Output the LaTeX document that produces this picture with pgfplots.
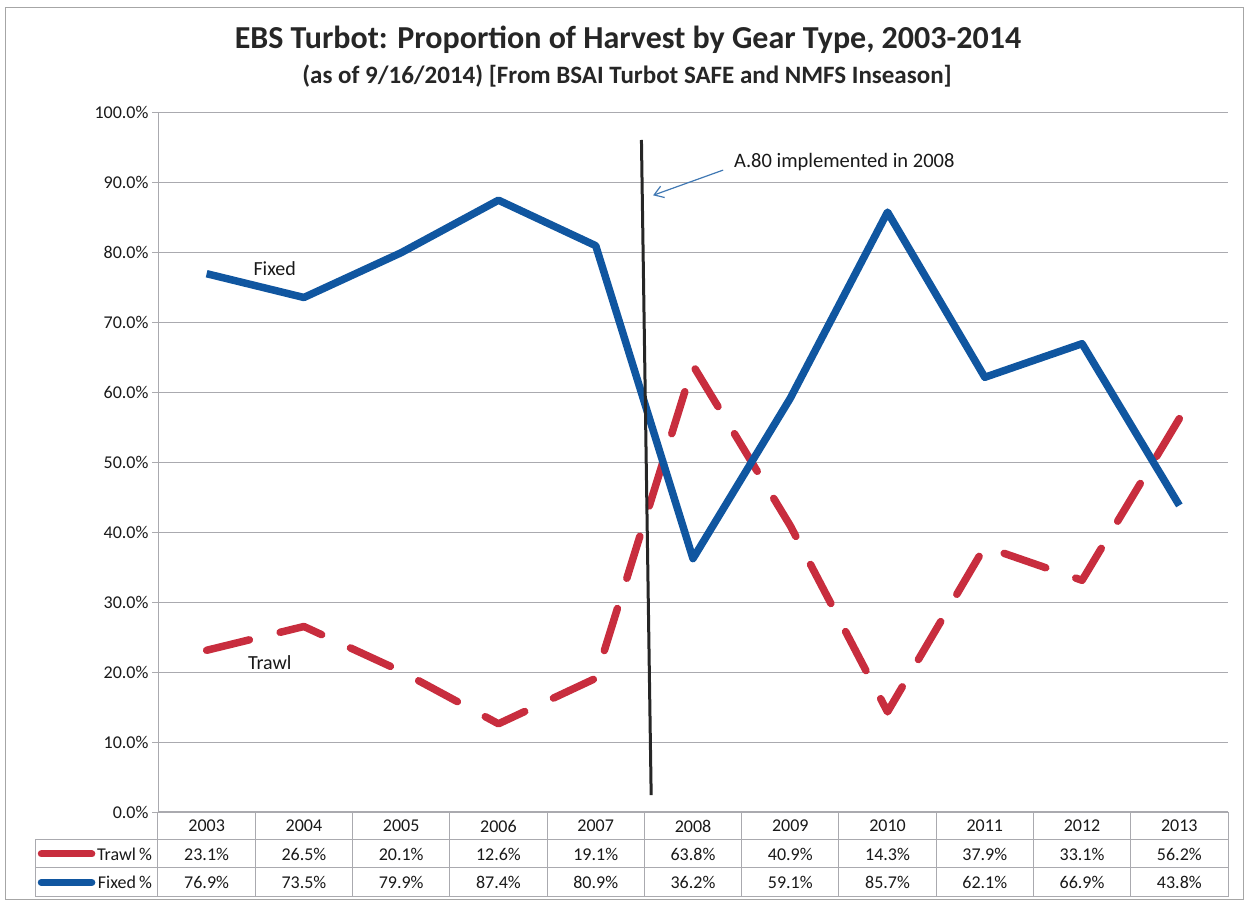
\documentclass[border=0pt]{standalone}
\usepackage{fontspec}
\setmainfont{Carlito}
\usepackage{pgfplots}
\pgfplotsset{compat=1.18}
\usetikzlibrary{arrows.meta}
\definecolor{trawlred}{RGB}{200,45,62}
\definecolor{fixedblue}{RGB}{16,86,160}
\definecolor{gridgray}{RGB}{170,170,175}
\begin{document}
\begin{tikzpicture}[x=1pt,y=1pt]
\path[use as bounding box] (0,0) rectangle (1248,905);
\draw[gray!70, line width=1pt] (5,5) rectangle (1243,897);
\node[font=\fontsize{32}{36}\selectfont\bfseries, text=black!85] at (628,865) {EBS Turbot: Proportion of Harvest by Gear Type, 2003-2014};
\node[font=\fontsize{25}{30}\selectfont\bfseries, text=black!85] at (627,829) {(as of 9/16/2014) [From BSAI Turbot SAFE and NMFS Inseason]};
\begin{axis}[
  at={(158pt,93pt)}, anchor=south west,
  scale only axis, width=1070pt, height=700pt,
  xmin=-0.5, xmax=10.5, ymin=0, ymax=100,
  xtick=\empty,
  ytick={0,10,...,100},
  yticklabel={\pgfmathprintnumber[fixed,fixed zerofill,precision=1]{\tick}\%},
  /pgf/number format/assume math mode=true,
  tick label style={font=\fontsize{18}{21}\selectfont, text=black!90},
  ymajorgrids, grid style={gridgray, line width=0.8pt},
  axis x line=none,
  axis y line*=left, axis line style={gridgray, line width=0.8pt, -},
  tick align=outside, major tick length=6pt, tick style={gridgray, line width=0.8pt},
  clip=false,
  after end axis/.code={
    % table
    \foreach \yy in {0,-4,-8,-12.14} {\draw[gridgray, line width=1pt] (axis cs:-0.5,\yy) -- (axis cs:10.5,\yy);}
    \foreach \yy in {-4,-8,-12.14} {\draw[gridgray, line width=1pt] (axis cs:-1.764,\yy) -- (axis cs:-0.5,\yy);}
    \draw[gridgray, line width=1pt] (axis cs:-1.764,-4) -- (axis cs:-1.764,-12.14);
    \foreach \xx in {-0.5,0.5,...,10.6} {\draw[gridgray, line width=1pt] (axis cs:\xx,0) -- (axis cs:\xx,-12.14);}
    \foreach \i/\yr/\t/\f in {0/2003/23.1/76.9,1/2004/26.5/73.5,2/2005/20.1/79.9,3/2006/12.6/87.4,4/2007/19.1/80.9,5/2008/63.8/36.2,6/2009/40.9/59.1,7/2010/14.3/85.7,8/2011/37.9/62.1,9/2012/33.1/66.9,10/2013/56.2/43.8} {
      \node[font=\fontsize{18}{21}\selectfont, text=black!90] at (axis cs:\i,-2) {\yr};
      \node[font=\fontsize{18}{21}\selectfont, text=black!90] at (axis cs:\i,-6) {\t\%};
      \node[font=\fontsize{18}{21}\selectfont, text=black!90] at (axis cs:\i,-10.07) {\f\%};
    }
    \draw[trawlred, line width=7pt, line cap=round] (axis cs:-1.70,-6) -- (axis cs:-1.18,-6);
    \draw[fixedblue, line width=7pt, line cap=round] (axis cs:-1.70,-10.07) -- (axis cs:-1.18,-10.07);
    \node[font=\fontsize{18}{21}\selectfont, text=black!90, anchor=east, inner sep=1pt] at (axis cs:-0.55,-6) {Trawl\,\%};
    \node[font=\fontsize{18}{21}\selectfont, text=black!90, anchor=east, inner sep=1pt] at (axis cs:-0.55,-10.07) {Fixed\,\%};
    % annotations
    \node[font=\fontsize{20.5}{24}\selectfont, text=black!90, anchor=west, inner sep=0pt] at (axis cs:5.42,92.9) {A.80 implemented in 2008};
    \draw[fixedblue!80, line width=1.2pt, -{Straight Barb[length=9pt,width=12pt]}] (axis cs:5.31,91.7) -- (axis cs:4.59,88.1);
    \node[font=\fontsize{20}{24}\selectfont, text=black!90, inner sep=0pt] at (axis cs:0.70,77.6) {Fixed};
    \node[font=\fontsize{20}{24}\selectfont, text=black!90, inner sep=0pt] at (axis cs:0.65,21.4) {Trawl};
  }
]
\addplot[trawlred, line width=7.5pt, line cap=round, line join=round, dash pattern=on 44pt off 31.7pt] coordinates {
(0,23.1) (1,26.5) (2,20.1) (3,12.6) (4,19.1) (5,63.8) (6,40.9) (7,14.3) (8,37.9) (9,33.1) (10,56.2)};
\addplot[fixedblue, line width=7.5pt, line join=round] coordinates {
(0,76.9) (1,73.5) (2,79.9) (3,87.4) (4,80.9) (5,36.2) (6,59.1) (7,85.7) (8,62.1) (9,66.9) (10,43.8)};
\addplot[black!85, line width=3pt] coordinates {(4.47,96) (4.57,2.4)};
\end{axis}
\end{tikzpicture}
\end{document}
